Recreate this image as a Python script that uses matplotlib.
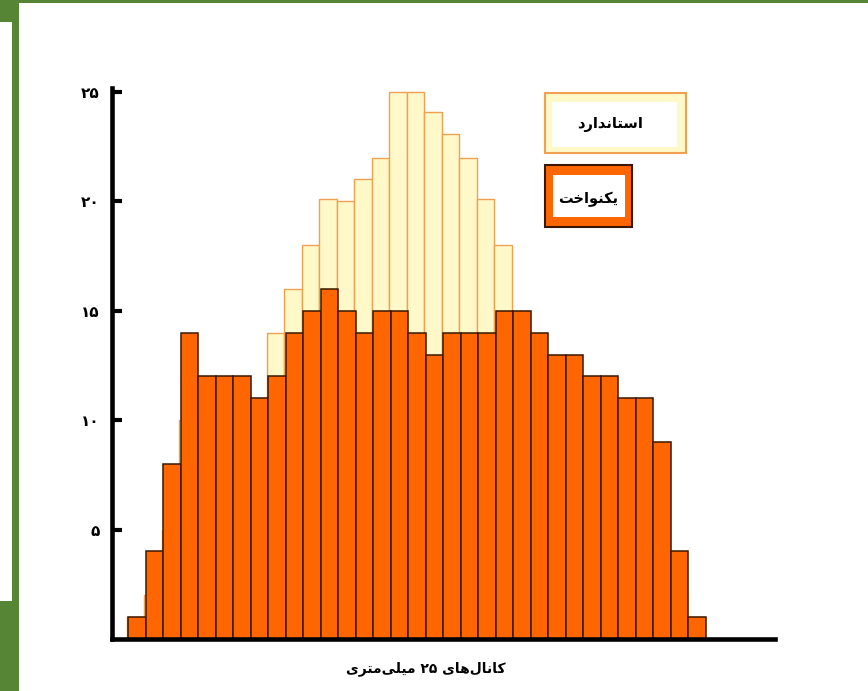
import matplotlib
matplotlib.use('Agg')
import matplotlib.pyplot as plt
from matplotlib.patches import Rectangle
import numpy as np

# ---------------- data ----------------
channels = list(range(1, 34))
uniform_counts = [1, 4, 8, 14, 12, 12, 12, 11, 12, 14, 15, 16, 15, 14, 15, 15, 14,
                  13, 14, 14, 14, 15, 15, 14, 13, 13, 12, 12, 11, 11, 9, 4, 1]
standard_counts = [1, 2, 5, 10, 11, 11, 11, 11, 14, 16, 18, 20.1, 20, 21, 22, 25, 25,
                   24.1, 23.1, 22, 20.1, 18, 15, 13, 12, 11, 10, 8, 6, 4, 3, 2, 1]
y_ticks = [5, 10, 15, 20, 25]
y_tick_labels = ['۵', '۱۰', '۱۵', '۲۰', '۲۵']
legend_labels = ['استاندارد', 'یکنواخت']
x_label = 'کانال‌های ۲۵ میلی‌متری'

# ------------- minimal Persian shaping (presentation forms) -------------
FORMS = {  # isolated, final, initial, medial
    'ا': ('\uFE8D', '\uFE8E', None, None),
    'د': ('\uFEA9', '\uFEAA', None, None),
    'ر': ('\uFEAD', '\uFEAE', None, None),
    'و': ('\uFEED', '\uFEEE', None, None),
    'س': ('\uFEB1', '\uFEB2', '\uFEB3', '\uFEB4'),
    'ت': ('\uFE95', '\uFE96', '\uFE97', '\uFE98'),
    'ن': ('\uFEE5', '\uFEE6', '\uFEE7', '\uFEE8'),
    'ی': ('\uFBFC', '\uFBFD', '\uFBFE', '\uFBFF'),
    'ک': ('\uFB8E', '\uFB8F', '\uFB90', '\uFB91'),
    'خ': ('\uFEA5', '\uFEA6', '\uFEA7', '\uFEA8'),
    'ل': ('\uFEDD', '\uFEDE', '\uFEDF', '\uFEE0'),
    'ه': ('\uFEE9', '\uFEEA', '\uFEEB', '\uFEEC'),
    'م': ('\uFEE1', '\uFEE2', '\uFEE3', '\uFEE4'),
}


def shape_word(word):
    out = []
    for i, c in enumerate(word):
        if c not in FORMS:
            if c != '\u200c':
                out.append(c)
            continue
        prev = word[i - 1] if i > 0 else None
        nxt = word[i + 1] if i + 1 < len(word) else None
        jp = prev in FORMS and FORMS[prev][2] is not None
        jn = FORMS[c][2] is not None and nxt in FORMS
        iso, fin, ini, med = FORMS[c]
        if jp and jn:
            out.append(med)
        elif jp:
            out.append(fin)
        elif jn:
            out.append(ini)
        else:
            out.append(iso)
    return ''.join(out)


def rtl(text):
    words = text.split(' ')
    vis = []
    for w in words:
        s = shape_word(w)
        if all(ch in '۰۱۲۳۴۵۶۷۸۹' for ch in s):
            vis.append(s)
        else:
            vis.append(s[::-1])
    return ' '.join(reversed(vis))


FONT = ['DejaVu Sans']
W, H = 868, 691

fig = plt.figure(figsize=(W / 100, H / 100), dpi=100)
fig.patch.set_facecolor('white')

# slide decoration
green = '#568536'
fig.add_artist(Rectangle((0, 0), 19 / W, 1, transform=fig.transFigure,
                         facecolor=green, edgecolor='none', zorder=0))
fig.add_artist(Rectangle((0, (H - 601) / H), 11.7 / W, 579 / H, transform=fig.transFigure,
                         facecolor='white', edgecolor='none', zorder=1))
fig.add_artist(Rectangle((19 / W, (H - 2.5) / H), 1, 2.5 / H, transform=fig.transFigure,
                         facecolor=green, edgecolor='none', zorder=0))

ax = fig.add_axes([112 / W, 52 / H, (775 - 112) / W, (639 - 88) / H])
x = np.arange(len(channels))

ax.bar(x - 0.09, standard_counts, width=1.0, color='#FFF9C9', edgecolor='#F0A050',
       linewidth=1.0, zorder=2)
ax.bar(x, uniform_counts, width=1.0, color='#FF6600', edgecolor='#3A1800',
       linewidth=1.1, zorder=3)

ax.set_xlim(-1.43, 36.46)
ax.set_ylim(0, 25.18)

for s in ['top', 'right']:
    ax.spines[s].set_visible(False)
for s in ['left', 'bottom']:
    ax.spines[s].set_linewidth(3.3)
    ax.spines[s].set_color('black')
    ax.spines[s].set_zorder(5)

ax.set_xticks([])
ax.set_yticks(y_ticks)
ax.set_yticklabels(y_tick_labels, fontsize=11, fontweight='bold', family=FONT)
ax.tick_params(axis='y', direction='in', length=7, width=3, pad=9, colors='black')

# legend boxes
def fig_rect(x0, y0, x1, y1, **kw):
    fig.add_artist(Rectangle((x0 / W, (H - y1) / H), (x1 - x0) / W, (y1 - y0) / H,
                             transform=fig.transFigure, **kw))

fig_rect(545, 93, 686, 153, facecolor='#FFF8C8', edgecolor='#F0A050', linewidth=1.5, zorder=6)
fig_rect(552, 102, 677, 147, facecolor='white', edgecolor='none', zorder=7)
fig.text(610 / W, 1 - 125 / H, rtl(legend_labels[0]), ha='center', va='center',
         fontsize=10.5, fontweight='bold', family=FONT, zorder=8)

fig_rect(545, 165, 632, 227, facecolor='#FF6600', edgecolor='#3A1800', linewidth=1.5, zorder=6)
fig_rect(553, 175, 625, 217, facecolor='white', edgecolor='none', zorder=7)
fig.text(588 / W, 1 - 199 / H, rtl(legend_labels[1]), ha='center', va='center',
         fontsize=10.5, fontweight='bold', family=FONT, zorder=8)

fig.text(426 / W, 1 - 669 / H, rtl(x_label), ha='center', va='center',
         fontsize=10, fontweight='bold', family=FONT)

fig.savefig('out.png', dpi=100, facecolor='white')
